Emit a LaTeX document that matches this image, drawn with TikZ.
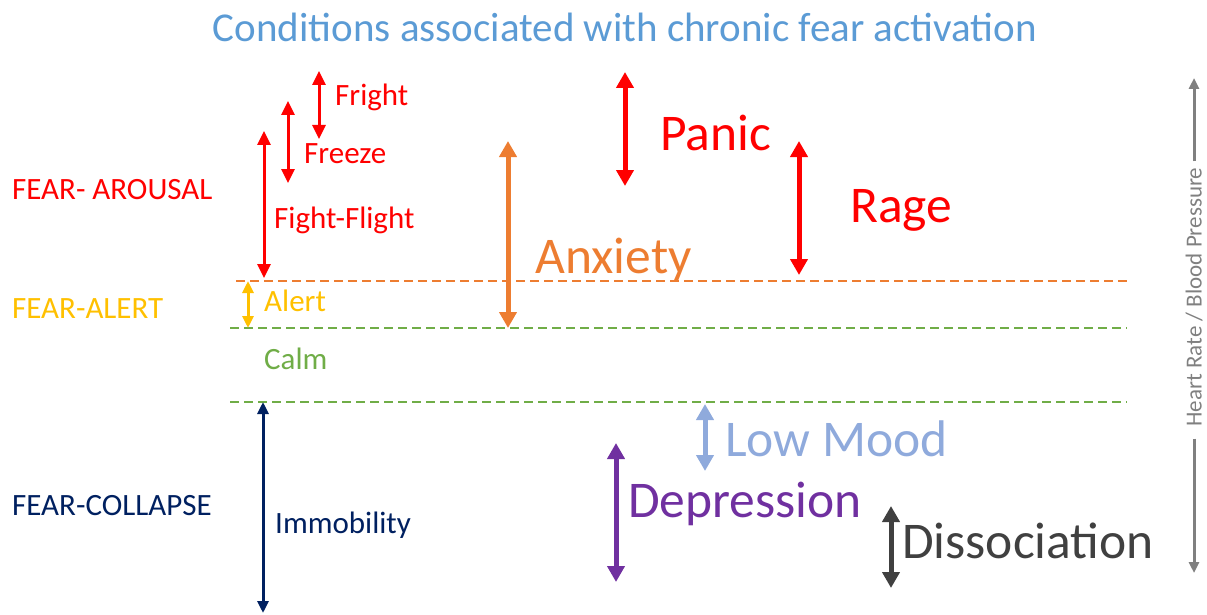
\documentclass[tikz,border=0pt]{standalone}
\usepackage{fontspec}
\setmainfont{Carlito}
\usetikzlibrary{arrows.meta}

\definecolor{titleblue}{HTML}{5B9BD5}
\definecolor{fearred}{HTML}{FF0000}
\definecolor{alertgold}{HTML}{FFC000}
\definecolor{calmgreen}{HTML}{70AD47}
\definecolor{collapsenavy}{HTML}{002060}
\definecolor{anxorange}{HTML}{ED7D31}
\definecolor{lowblue}{HTML}{8FAADC}
\definecolor{deppurple}{HTML}{7030A0}
\definecolor{dissgray}{HTML}{404040}
\definecolor{axisgray}{HTML}{808080}

\tikzset{
  spanarrow/.style={{Triangle[width=13pt,length=14pt]}-{Triangle[width=13pt,length=14pt]}, line width=3pt},
  thinspan/.style={{Triangle[width=11pt,length=12pt]}-{Triangle[width=11pt,length=12pt]}, line width=3pt},
  bigspan/.style={{Triangle[width=17pt,length=16pt]}-{Triangle[width=17pt,length=16pt]}, line width=5pt},
  bandline/.style={dash pattern=on 9pt off 5pt, line width=2pt},
  lbl/.style={anchor=base west, inner sep=0pt, font=\fontsize{31}{37}\selectfont},
  biglbl/.style={anchor=base west, inner sep=0pt, font=\fontsize{51.5}{60}\selectfont},
}

\begin{document}
\begin{tikzpicture}[x=1pt,y=-1pt]
  \useasboundingbox (0,0) rectangle (1207,615);

  \node[anchor=base, inner sep=0pt, font=\fontsize{41}{48}\selectfont, titleblue] (title) at (625,42)
    {Conditions associated with chronic fear activation};

  % levels
  \coordinate (alertL) at (236,281);   \coordinate (alertR) at (1127,281);
  \coordinate (calmL) at (230,328);    \coordinate (calmR) at (1127,328);
  \coordinate (floorL) at (230,402);   \coordinate (floorR) at (1127,402);
  \draw[bandline, anxorange] (alertL) -- (alertR);
  \draw[bandline, calmgreen] (calmL) -- (calmR);
  \draw[bandline, calmgreen] (floorL) -- (floorR);

  % zones
  \node[lbl, fearred] (arousal) at (12,199) {FEAR- AROUSAL};
  \node[lbl, alertgold] (alertzone) at (12,318) {FEAR-ALERT};
  \node[lbl, collapsenavy] (collapse) at (12,515) {FEAR-COLLAPSE};

  % red responses
  \foreach \nm/\x/\ya/\yb in {fright/319/71/139, freeze/288/101/183, fight/264/131/278}{
    \coordinate (\nm T) at (\x,\ya);
    \coordinate (\nm B) at (\x,\yb);
    \draw[spanarrow, fearred] (\nm T) -- (\nm B);
  }
  \node[lbl, fearred] (frightlbl) at (335,106) {Fright};
  \node[lbl, fearred] (freezelbl) at (304,164) {Freeze};
  \node[lbl, fearred] (fightlbl) at (274,228) {Fight-Flight};

  \draw[thinspan, alertgold] (alertL -| 248,0) -- (calmL -| 248,0);
  \node[lbl, alertgold] (alertlbl) at (264,311) {Alert};
  \node[lbl, calmgreen] (calmlbl) at (264,369) {Calm};

  \coordinate (immoB) at (263,613);
  \draw[thinspan, collapsenavy] (floorL -| immoB) -- (immoB);
  \node[lbl, collapsenavy] (immolbl) at (275,533) {Immobility};

  % conditions
  \coordinate (anxT) at (508,141);  \coordinate (anxB) at (508,328);
  \coordinate (panT) at (625,72);   \coordinate (panB) at (625,186);
  \coordinate (ragT) at (799,141);  \coordinate (ragB) at (799,275);
  \coordinate (lowT) at (705,404);  \coordinate (lowB) at (705,471);
  \coordinate (depT) at (616,443);  \coordinate (depB) at (616,582);
  \coordinate (disT) at (891,506);  \coordinate (disB) at (891,588);
  \draw[bigspan, anxorange] (anxT) -- (anxB);
  \draw[bigspan, fearred] (panT) -- (panB);
  \draw[bigspan, fearred] (ragT) -- (ragB);
  \draw[bigspan, lowblue] (lowT) -- (lowB);
  \draw[bigspan, deppurple] (depT) -- (depB);
  \draw[bigspan, dissgray] (disT) -- (disB);
  \node[biglbl, anxorange] (anxlbl) at (535,273) {Anxiety};
  \node[biglbl, fearred] (panlbl) at (660,150) {Panic};
  \node[biglbl, fearred] (raglbl) at (850,222) {Rage};
  \node[biglbl, lowblue] (lowlbl) at (725,456) {Low Mood};
  \node[biglbl, deppurple] (deplbl) at (628,517) {Depression};
  \node[biglbl, dissgray] (dislbl) at (902,558) {Dissociation};

  % heart rate axis
  \node[rotate=90, inner sep=0pt, font=\fontsize{23}{28}\selectfont, axisgray] (axislbl) at (1194,297)
    {Heart Rate / Blood Pressure};
  \coordinate (axisT) at (1194,78);
  \coordinate (axisB) at (1194,573);
  \draw[axisgray, line width=3pt, shorten <=6pt, -{Triangle[width=10pt,length=11pt]}] (axislbl.east) -- (axisT);
  \draw[axisgray, line width=3pt, shorten <=12pt, -{Triangle[width=10pt,length=11pt]}] (axislbl.west) -- (axisB);
\end{tikzpicture}
\end{document}
